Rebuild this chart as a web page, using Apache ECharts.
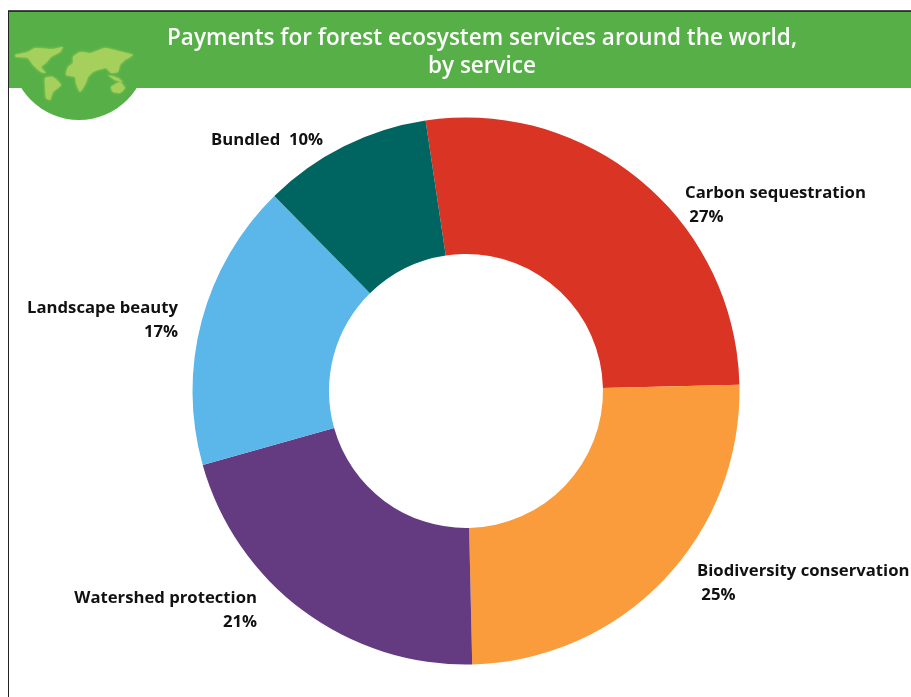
<!DOCTYPE html>
<html>
<head>
<meta charset="utf-8">
<style>html,body{margin:0;padding:0;background:#fff}#chart{width:911px;height:697px}</style>
<script src="https://cdn.jsdelivr.net/npm/echarts@6/dist/echarts.min.js"></script>
</head>
<body>
<div id="chart"></div>
<script>
// Share of forest ecosystem service payments, clockwise from the top
const services = ['Carbon sequestration', 'Biodiversity conservation', 'Watershed protection', 'Landscape beauty', 'Bundled'];
const shares = [27, 25, 21, 17, 10];
const sliceColors = ['#d93424', '#fa9c3c', '#643a80', '#5bb6ea', '#006560'];
const labelTexts = ['Carbon sequestration\n 27%', 'Biodiversity conservation\n 25%', 'Watershed protection\n21%', 'Landscape beauty\n17%', 'Bundled  10%'];
const labelSpots = [
  { x: 685, y: 205, align: 'left' },
  { x: 697, y: 583, align: 'left' },
  { x: 257, y: 610, align: 'right' },
  { x: 178, y: 320, align: 'right' },
  { x: 211, y: 140, align: 'left' }
];
const titleText = 'Payments for forest ecosystem services around the world,\nby service';

const GREEN = '#56b047';
const LAND = '#a6d05c';

// Simplified continents for the globe badge in the header
const continents = [
  [[15,55],[28,52],[35,48],[53,49],[63,47],[60,52],[51,57],[46,63],[41,67],[46,73],[41,72],[33,65],[28,58],[16,57]],
  [[45,78],[53,77],[61,85],[53,92],[50,100],[46,98],[45,85]],
  [[73,57],[80,52],[91,53],[105,48],[118,51],[133,55],[125,60],[120,65],[118,72],[111,73],[106,68],[98,70],[93,72],[88,77],[86,83],[80,92],[76,83],[75,77],[66,75],[68,67],[73,63]],
  [[111,87],[120,82],[125,88],[120,93],[113,92]],
  [[108,75],[118,78],[123,82],[115,80]]
];

const chart = echarts.init(document.getElementById('chart'));
chart.setOption({
  animation: false,
  textStyle: { fontFamily: 'Open Sans' },
  graphic: [
    { type: 'rect', z: 1, shape: { x: 9, y: 11, width: 902, height: 77 }, style: { fill: GREEN } },
    // Lower half of the globe hangs below the header band
    { type: 'sector', z: 1, shape: { cx: 79, cy: 52, r: 68, r0: 0, startAngle: 0, endAngle: Math.PI }, style: { fill: GREEN } },
    ...continents.map(points => ({
      type: 'polygon', z: 2, shape: { points, smooth: 0.15 },
      style: { fill: LAND, shadowBlur: 3, shadowColor: LAND }
    })),
    { type: 'line', z: 3, shape: { x1: 8, y1: 11, x2: 911, y2: 11 }, style: { stroke: '#111', lineWidth: 1.5 } },
    { type: 'line', z: 3, shape: { x1: 8.5, y1: 11, x2: 8.5, y2: 697 }, style: { stroke: '#222', lineWidth: 1 } },
    {
      type: 'text', z: 4, x: 482, y: 52.5,
      style: {
        text: titleText, fill: '#fff', font: '600 22.5px "Open Sans"',
        align: 'center', verticalAlign: 'middle', lineHeight: 28
      }
    }
  ],
  series: [{
    type: 'pie',
    center: [466, 391],
    radius: [137, 273.5],
    startAngle: 98.5,
    clockwise: true,
    label: {
      show: true, color: '#111', fontFamily: 'Open Sans', fontWeight: 'bold',
      fontSize: 16.7, lineHeight: 24, overflow: 'none',
      formatter: p => labelTexts[p.dataIndex]
    },
    labelLine: { show: false },
    labelLayout: p => ({ ...labelSpots[p.dataIndex], verticalAlign: 'middle' }),
    data: services.map((name, i) => ({
      name, value: shares[i], itemStyle: { color: sliceColors[i] }
    }))
  }]
});
</script>
</body>
</html>
